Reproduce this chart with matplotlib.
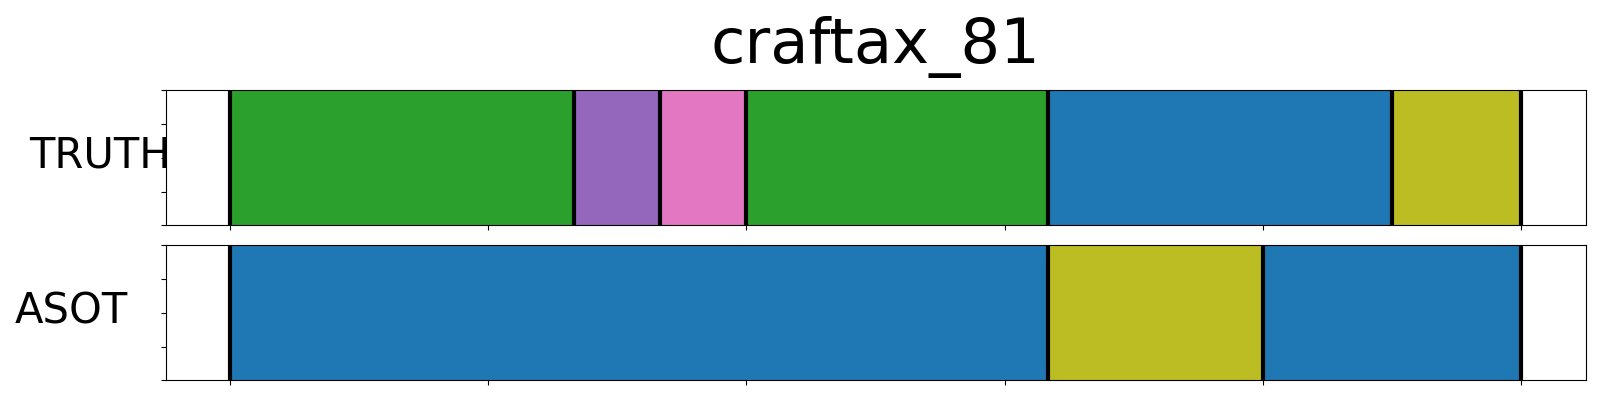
import matplotlib
matplotlib.use("Agg")
import matplotlib.pyplot as plt

title = "craftax_81"
n_frames = 30
row_labels = ["TRUTH", "ASOT"]
truth_bounds = [0, 8, 10, 12, 19, 27, 30]
truth_colors = ["#2ca02c", "#9467bd", "#e377c2", "#2ca02c", "#1f77b4", "#bcbd22"]
asot_bounds = [0, 19, 24, 30]
asot_colors = ["#1f77b4", "#bcbd22", "#1f77b4"]
xticks = [0, 6, 12, 18, 24, 30]
yticks = [0, 0.25, 0.5, 0.75, 1.0]

fig = plt.figure(figsize=(16, 4), dpi=100)
W, H = 1600, 400
left = 165.5 / W
width = 1420.2 / W
h = 135.0 / H
ax_top = fig.add_axes([left, (H - 225.3) / H, width, h])
ax_bot = fig.add_axes([left, (H - 380.3) / H, width, h])

pad = 0.05 * n_frames
for ax, bounds, colors in [(ax_top, truth_bounds, truth_colors),
                           (ax_bot, asot_bounds, asot_colors)]:
    for i, c in enumerate(colors):
        ax.axvspan(bounds[i], bounds[i + 1], ymin=0, ymax=1, color=c, lw=0)
    for b in bounds:
        ax.axvline(b, color="black", lw=3)
    ax.set_xlim(-pad, n_frames + pad)
    ax.set_ylim(0, 1)
    ax.set_xticks(xticks)
    ax.set_yticks(yticks)
    ax.set_xticklabels([])
    ax.set_yticklabels([])

fig.text(29 / W, (H - 156) / H, row_labels[0], fontsize=30, ha="left", va="center")
fig.text(15 / W, (H - 311.5) / H, row_labels[1], fontsize=30, ha="left", va="center")
fig.text(875.6 / W, (H - 63.3) / H, title, fontsize=45, ha="center", va="baseline")

fig.savefig("out.png", dpi=100)
